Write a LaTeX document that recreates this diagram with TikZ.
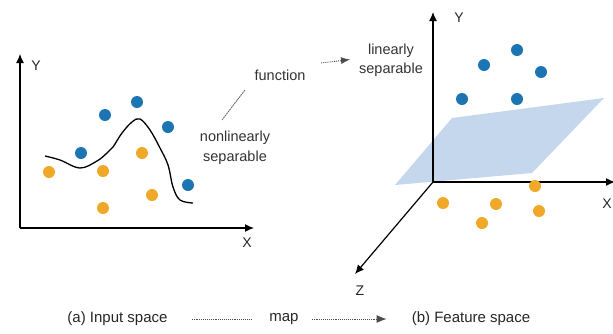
\documentclass[tikz,border=0pt]{standalone}
\usepackage{fontspec}
\setmainfont{Liberation Sans}
\usetikzlibrary{arrows.meta}
\definecolor{dotblue}{RGB}{28,117,178}
\definecolor{dotorange}{RGB}{240,168,40}
\definecolor{planeblue}{RGB}{196,215,236}
\tikzset{
  axis/.style={line width=1.2pt, -{Latex[length=9pt,width=8pt]}},
  bdot/.style={circle, fill=dotblue, inner sep=0pt, minimum size=12pt},
  odot/.style={circle, fill=dotorange, inner sep=0pt, minimum size=12pt},
  lbl/.style={font=\fontsize{14}{16}\selectfont, inner sep=0pt, text=black!85},
  small/.style={font=\fontsize{14.5}{19.5}\selectfont, inner sep=0pt, align=center, text=black!80},
  captext/.style={font=\fontsize{15}{17}\selectfont, inner sep=0pt, text=black!85},
  dotline/.style={densely dotted, line width=0.9pt, black!70},
}
\begin{document}
\begin{tikzpicture}[x=1pt,y=-1pt]
\useasboundingbox (0,0) rectangle (613,333);
% ---------- left panel ----------
\coordinate (lo) at (20,228);
\coordinate (ly) at (20,54);
\coordinate (lx) at (254,228);
\draw[axis] (lo) -- (ly);
\draw[axis] (lo) -- (lx);
\node[lbl] (lY) at (36,66) {Y};
\node[lbl] (lX) at (247,243) {X};
\node[bdot] (b1) at (137,102) {};
\node[bdot] (b2) at (105,115) {};
\node[bdot] (b3) at (168,127) {};
\node[bdot] (b4) at (81,153) {};
\node[bdot] (b5) at (188,185) {};
\node[odot] (o1) at (49,172) {};
\node[odot] (o2) at (103,171) {};
\node[odot] (o3) at (142,153) {};
\node[odot] (o4) at (152,195) {};
\node[odot] (o5) at (103,208) {};
\draw[line width=1.3pt] plot[smooth, tension=0.6] coordinates {(45,156) (60,160) (80,168) (97,161) (107,153) (113,147) (122,133) (132,122) (140,119) (150,130) (160,148) (168,165) (173,187) (180,200) (193,203)};
\node[small] (func) at (280,75) {function};
\node[small] (nonlin) at (235,147.5) {nonlinearly\\separable};
\draw[black!60, line width=0.8pt, dash pattern=on 2pt off 0.6pt] (245,90) -- (222,120);
\coordinate (fa) at (321,63);
\coordinate (fb) at (350,59.5);
\draw[dotline, -{Latex[length=9pt,width=7pt]}] (fa) -- (fb);
% ---------- right panel ----------
\coordinate (ro) at (433,182);
\fill[planeblue] (395,185) -- (452,118) -- (604,98) -- (532,173) -- cycle;
\draw[axis] (ro) -- (433,12);
\draw[axis] (ro) -- (615,182);
\draw[axis] (ro) -- (355,274);
\node[lbl] (rY) at (459,18) {Y};
\node[lbl] (rX) at (607,204) {X};
\node[lbl] (rZ) at (360,291) {Z};
\node[small] (lin) at (391,60) {linearly\\separable};
\node[bdot] (c1) at (517,50) {};
\node[bdot] (c2) at (484,65) {};
\node[bdot] (c3) at (541,72) {};
\node[bdot] (c4) at (462,99) {};
\node[bdot] (c5) at (517,99) {};
\node[odot] (p1) at (535,186) {};
\node[odot] (p2) at (443,203) {};
\node[odot] (p3) at (496,204) {};
\node[odot] (p4) at (539,211) {};
\node[odot] (p5) at (482,223) {};
% ---------- caption ----------
\node[captext] (ca) at (117.5,319) {(a) Input space};
\node[captext] (cm) at (284,319) {map};
\node[captext] (cb) at (471,319) {(b) Feature space};
\draw[dotline] ([xshift=24pt]ca.east) -- ([xshift=-17pt]cm.west);
\draw[dotline, -{Latex[length=10pt,width=8pt]}] ([xshift=13pt]cm.east) -- ([xshift=-25pt]cb.west);
\end{tikzpicture}
\end{document}
